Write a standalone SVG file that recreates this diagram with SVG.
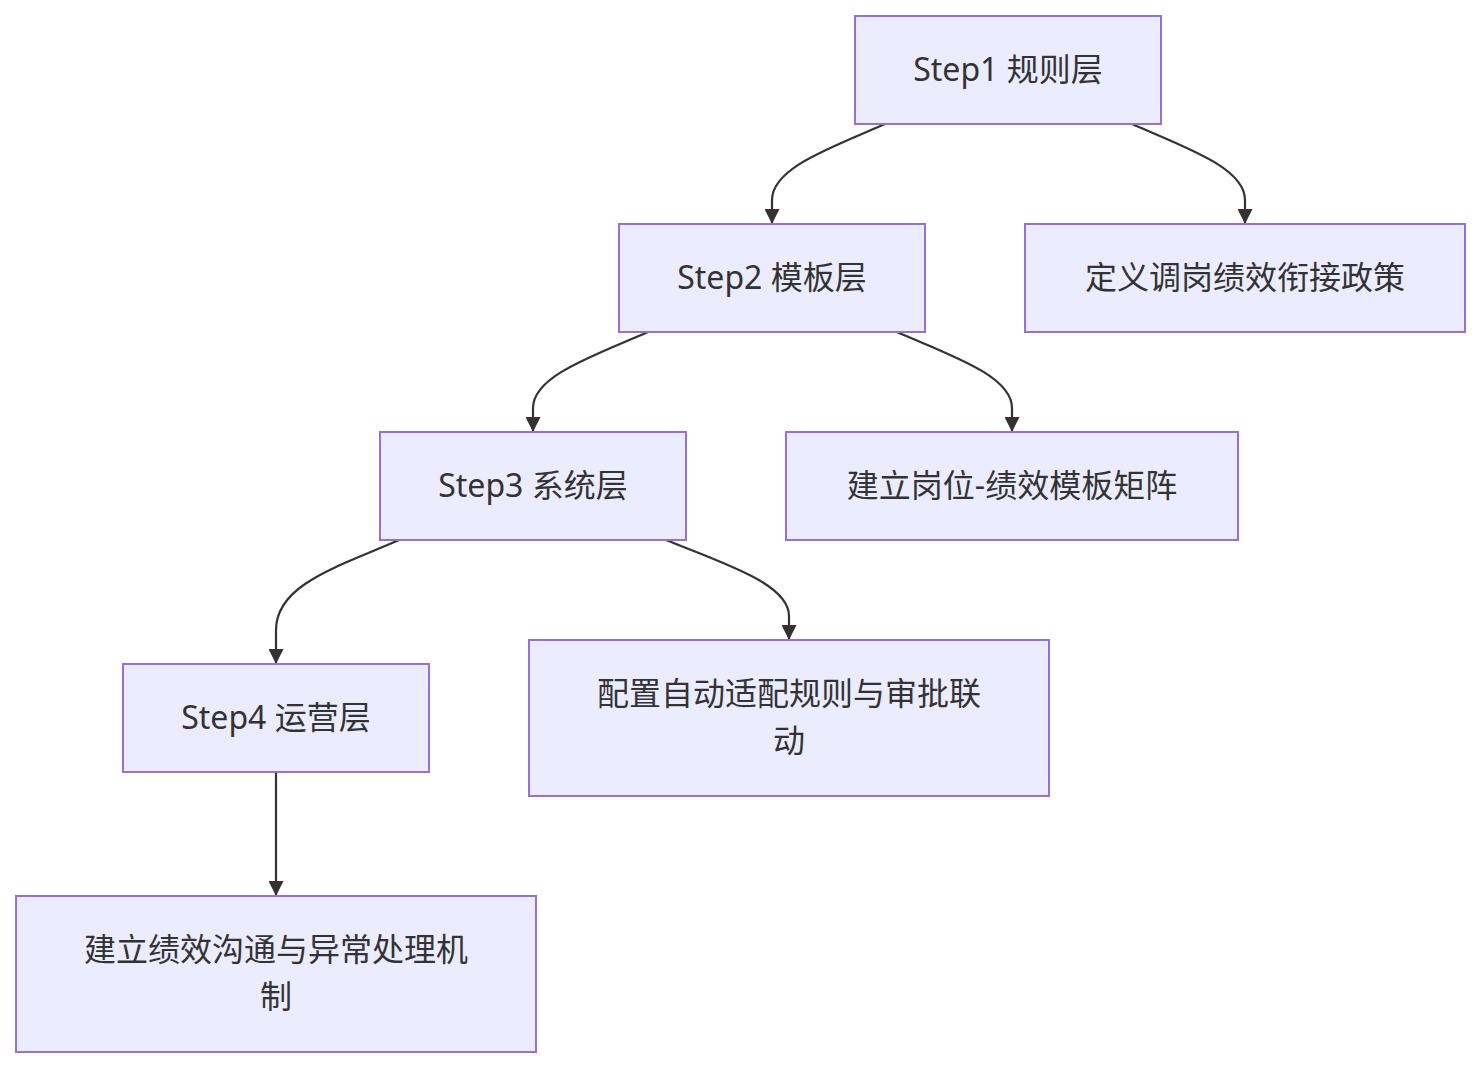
<svg xmlns="http://www.w3.org/2000/svg" width="1480" height="1068" viewBox="0 0 1480 1068">
<style>
.node rect{fill:#ECECFF;stroke:#9370DB;stroke-width:2}
.node text{font-family:"Noto Sans","Noto Sans CJK SC",sans-serif;font-size:32px;fill:#333;text-anchor:middle}
.edge{fill:none;stroke:#333;stroke-width:2.2}
</style>
<defs>
<marker id="arr" viewBox="0 0 10 10" refX="10" refY="5" markerWidth="15" markerHeight="15" markerUnits="userSpaceOnUse" orient="auto">
<path d="M0,0 L10,5 L0,10 z" fill="#333"/>
</marker>
</defs>
<rect width="1480" height="1068" fill="#fff"/>
<g id="connectors">
<path class="edge" marker-end="url(#arr)" d="M885,124 C830,148 772,168 772,200 L772,224"/>
<path class="edge" marker-end="url(#arr)" d="M1132,124 C1187,148 1245,168 1245,200 L1245,224"/>
<path class="edge" marker-end="url(#arr)" d="M648,332 C593,356 533,376 533,408 L533,432"/>
<path class="edge" marker-end="url(#arr)" d="M897,332 C952,356 1012,376 1012,408 L1012,432"/>
<path class="edge" marker-end="url(#arr)" d="M399,540 C340,566 276,584 276,630 L276,664"/>
<path class="edge" marker-end="url(#arr)" d="M666,540 C725,564 789,584 789,616 L789,640"/>
<path class="edge" marker-end="url(#arr)" d="M276,772 L276,896"/>
</g>
<g id="step1" class="node"><rect x="855" y="16" width="306" height="108"/><text x="1008" y="81">Step1 规则层</text></g>
<g id="step2" class="node"><rect x="619" y="224" width="306" height="108"/><text x="772" y="289">Step2 模板层</text></g>
<g id="policy" class="node"><rect x="1025" y="224" width="440" height="108"/><text x="1245" y="289">定义调岗绩效衔接政策</text></g>
<g id="step3" class="node"><rect x="380" y="432" width="306" height="108"/><text x="533" y="497">Step3 系统层</text></g>
<g id="matrix" class="node"><rect x="786" y="432" width="452" height="108"/><text x="1012" y="497">建立岗位-绩效模板矩阵</text></g>
<g id="step4" class="node"><rect x="123" y="664" width="306" height="108"/><text x="276" y="729">Step4 运营层</text></g>
<g id="config" class="node"><rect x="529" y="640" width="520" height="156"/><text x="789" y="705">配置自动适配规则与审批联</text><text x="789" y="752">动</text></g>
<g id="mechanism" class="node"><rect x="16" y="896" width="520" height="156"/><text x="276" y="961">建立绩效沟通与异常处理机</text><text x="276" y="1008">制</text></g>
</svg>
